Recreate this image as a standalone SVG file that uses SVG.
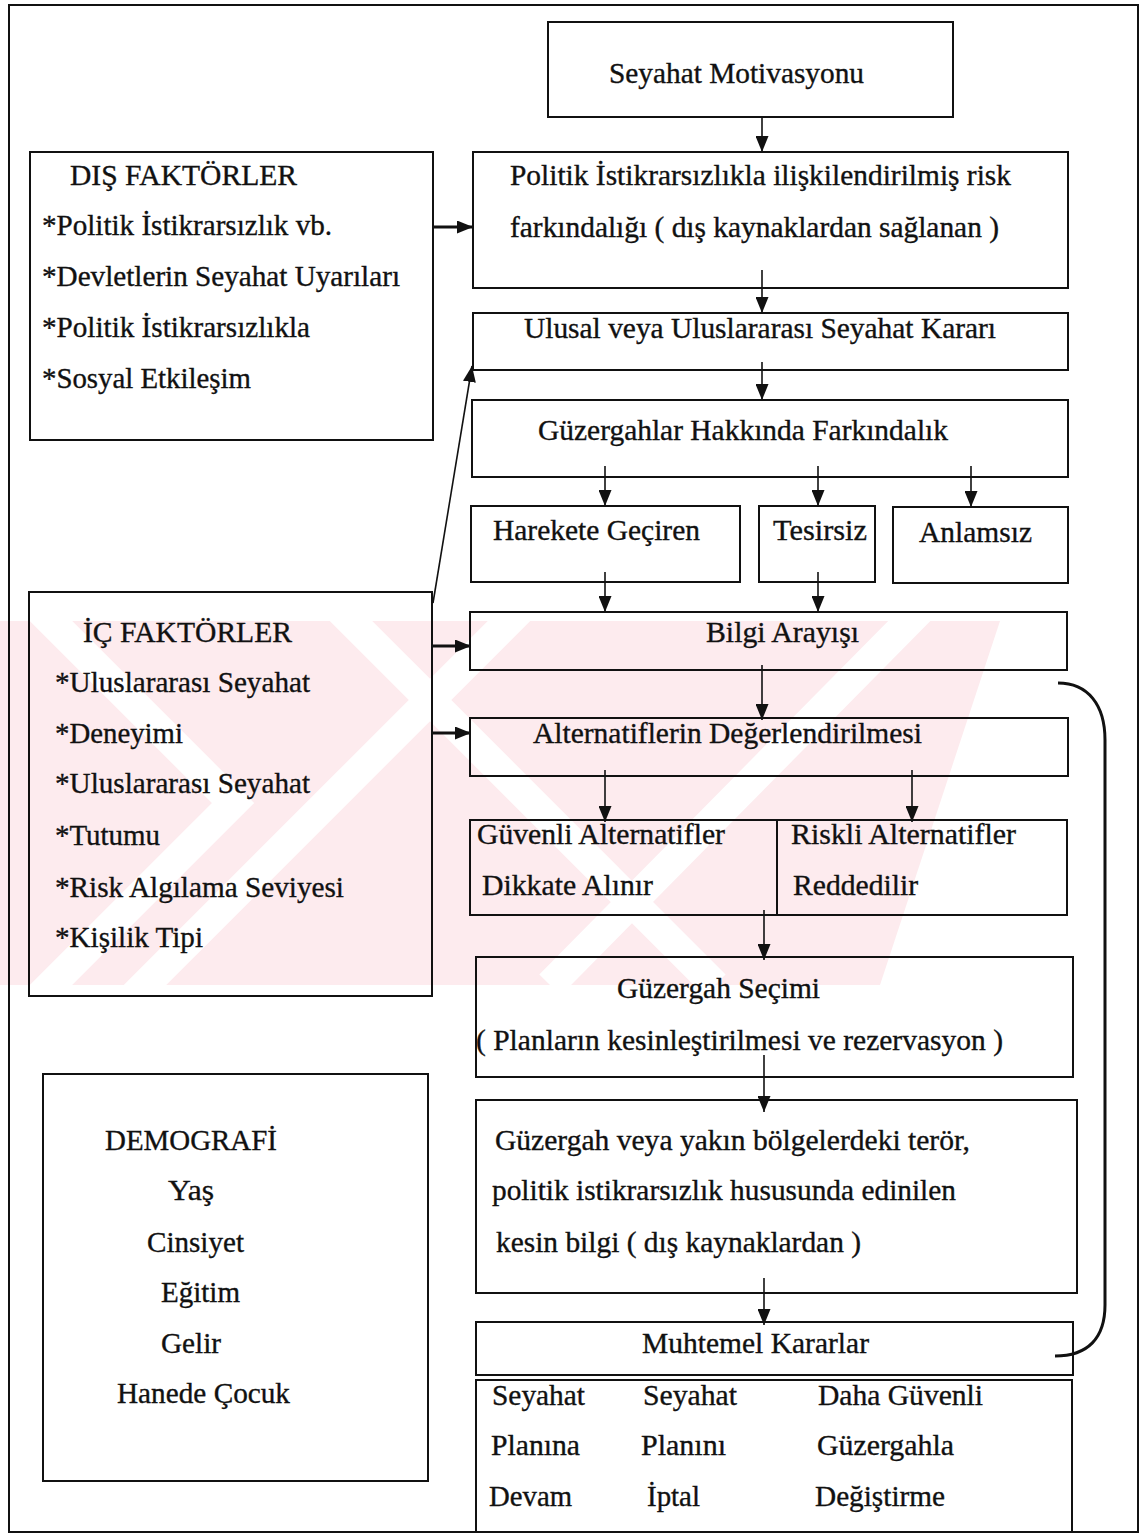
<svg xmlns="http://www.w3.org/2000/svg" width="1144" height="1535" viewBox="0 0 1144 1535">
  <style>
    .box { fill: none; stroke: #111; stroke-width: 2; }
    .t { font-family: "Liberation Serif", "Times New Roman", serif; font-size: 30px; fill: #111; stroke: #111; stroke-width: 0.35; }
    .ln { fill: none; stroke: #111; stroke-width: 1.6; }
    .thick { fill: none; stroke: #111; stroke-width: 3; }
  </style>
  <defs>
    <marker id="arr" markerUnits="userSpaceOnUse" markerWidth="16" markerHeight="13" refX="16" refY="6.5" orient="auto">
      <path d="M0,0 L16,6.5 L0,13 z" fill="#111"/>
    </marker>
    <clipPath id="wmClip">
      <polygon points="0,621 1000,621 880,985 0,985"/>
    </clipPath>
  </defs>

  <rect width="1144" height="1535" fill="#fff"/>

  <!-- faint background seal -->
  <g id="seal" clip-path="url(#wmClip)">
    <rect x="0" y="621" width="1000" height="364" fill="#fdebee"/>
    <g fill="none" stroke="#fff" stroke-width="30">
      <polyline points="30,600 233,803 30,1006"/>
      <line x1="530" y1="600" x2="130" y2="1000"/>
      <line x1="330" y1="600" x2="715" y2="985"/>
      <line x1="930" y1="600" x2="550" y2="985"/>
    </g>
  </g>

  <!-- page frame -->
  <rect x="9" y="5" width="1129" height="1527" class="box"/>

  <g id="connectors">
    <line x1="762" y1="117" x2="762" y2="152" class="ln" marker-end="url(#arr)"/>
    <line x1="762" y1="270" x2="762" y2="313" class="ln" marker-end="url(#arr)"/>
    <line x1="762" y1="362" x2="762" y2="400" class="ln" marker-end="url(#arr)"/>
    <line x1="605" y1="466" x2="605" y2="506" class="ln" marker-end="url(#arr)"/>
    <line x1="818" y1="466" x2="818" y2="506" class="ln" marker-end="url(#arr)"/>
    <line x1="971" y1="466" x2="971" y2="507" class="ln" marker-end="url(#arr)"/>
    <line x1="605" y1="572" x2="605" y2="612" class="ln" marker-end="url(#arr)"/>
    <line x1="818" y1="572" x2="818" y2="612" class="ln" marker-end="url(#arr)"/>
    <line x1="762" y1="665" x2="762" y2="720" class="ln" marker-end="url(#arr)"/>
    <line x1="605" y1="770" x2="605" y2="822" class="ln" marker-end="url(#arr)"/>
    <line x1="912" y1="770" x2="912" y2="822" class="ln" marker-end="url(#arr)"/>
    <line x1="764" y1="910" x2="764" y2="960" class="ln" marker-end="url(#arr)"/>
    <line x1="764" y1="1055" x2="764" y2="1112" class="ln" marker-end="url(#arr)"/>
    <line x1="764" y1="1278" x2="764" y2="1325" class="ln" marker-end="url(#arr)"/>
    <line x1="433" y1="227" x2="473" y2="227" class="thick" marker-end="url(#arr)"/>
    <line x1="432" y1="646" x2="471" y2="646" class="thick" marker-end="url(#arr)"/>
    <line x1="432" y1="733" x2="471" y2="733" class="thick" marker-end="url(#arr)"/>
    <line x1="433" y1="603" x2="472" y2="366" class="ln" marker-end="url(#arr)"/>
    <path d="M1058,683 C1088,683 1105,705 1105,740 L1105,1305 C1105,1338 1088,1356 1055,1356" class="thick" stroke-width="2.2"/>
  </g>

  <g id="motivasyon">
    <rect x="548" y="22" width="405" height="95" class="box"/>
    <text class="t" x="609" y="83" textLength="255" lengthAdjust="spacingAndGlyphs">Seyahat Motivasyonu</text>
  </g>

  <g id="risk-farkindaligi">
    <rect x="473" y="152" width="595" height="136" class="box"/>
    <text class="t" x="510" y="185" textLength="501" lengthAdjust="spacingAndGlyphs">Politik İstikrarsızlıkla ilişkilendirilmiş risk</text>
    <text class="t" x="510" y="237" textLength="489" lengthAdjust="spacingAndGlyphs">farkındalığı ( dış kaynaklardan sağlanan )</text>
  </g>

  <g id="seyahat-karari">
    <rect x="473" y="313" width="595" height="57" class="box"/>
    <text class="t" x="524" y="338" textLength="472" lengthAdjust="spacingAndGlyphs">Ulusal veya Uluslararası Seyahat Kararı</text>
  </g>

  <g id="guzergah-farkindalik">
    <rect x="472" y="400" width="596" height="77" class="box"/>
    <text class="t" x="538" y="440" textLength="410" lengthAdjust="spacingAndGlyphs">Güzergahlar Hakkında Farkındalık</text>
  </g>

  <g id="harekete-geciren">
    <rect x="471" y="506" width="269" height="76" class="box"/>
    <text class="t" x="493" y="540" textLength="207" lengthAdjust="spacingAndGlyphs">Harekete Geçiren</text>
  </g>

  <g id="tesirsiz">
    <rect x="759" y="506" width="116" height="76" class="box"/>
    <text class="t" x="773" y="540" textLength="94" lengthAdjust="spacingAndGlyphs">Tesirsiz</text>
  </g>

  <g id="anlamsiz">
    <rect x="893" y="507" width="175" height="76" class="box"/>
    <text class="t" x="919" y="542" textLength="113" lengthAdjust="spacingAndGlyphs">Anlamsız</text>
  </g>

  <g id="bilgi-arayisi">
    <rect x="470" y="612" width="597" height="58" class="box"/>
    <text class="t" x="706" y="642" textLength="153" lengthAdjust="spacingAndGlyphs">Bilgi Arayışı</text>
  </g>

  <g id="alternatif-degerlendirme">
    <rect x="470" y="718" width="598" height="58" class="box"/>
    <text class="t" x="533" y="743" textLength="389" lengthAdjust="spacingAndGlyphs">Alternatiflerin Değerlendirilmesi</text>
  </g>

  <g id="alternatifler">
    <rect x="470" y="820" width="597" height="95" class="box"/>
    <line x1="777" y1="820" x2="777" y2="915" class="box"/>
    <text class="t" x="477" y="844" textLength="248" lengthAdjust="spacingAndGlyphs">Güvenli Alternatifler</text>
    <text class="t" x="482" y="895" textLength="171" lengthAdjust="spacingAndGlyphs">Dikkate Alınır</text>
    <text class="t" x="791" y="844" textLength="225" lengthAdjust="spacingAndGlyphs">Riskli Alternatifler</text>
    <text class="t" x="793" y="895" textLength="125" lengthAdjust="spacingAndGlyphs">Reddedilir</text>
  </g>

  <g id="guzergah-secimi">
    <rect x="476" y="957" width="597" height="120" class="box"/>
    <text class="t" x="617" y="998" textLength="203" lengthAdjust="spacingAndGlyphs">Güzergah Seçimi</text>
    <text class="t" x="476" y="1050" textLength="527" lengthAdjust="spacingAndGlyphs">( Planların kesinleştirilmesi ve rezervasyon )</text>
  </g>

  <g id="kesin-bilgi">
    <rect x="476" y="1100" width="601" height="193" class="box"/>
    <text class="t" x="495" y="1150" textLength="475" lengthAdjust="spacingAndGlyphs">Güzergah veya yakın bölgelerdeki terör,</text>
    <text class="t" x="492" y="1200" textLength="464" lengthAdjust="spacingAndGlyphs">politik istikrarsızlık hususunda edinilen</text>
    <text class="t" x="496" y="1252" textLength="365" lengthAdjust="spacingAndGlyphs">kesin bilgi ( dış kaynaklardan )</text>
  </g>

  <g id="muhtemel-kararlar">
    <rect x="476" y="1322" width="597" height="53" class="box"/>
    <text class="t" x="642" y="1353" textLength="227" lengthAdjust="spacingAndGlyphs">Muhtemel Kararlar</text>
  </g>

  <g id="karar-secenekleri">
    <polyline points="476,1532 476,1380 1072,1380 1072,1532" class="box"/>
    <text class="t" x="492" y="1405" textLength="93" lengthAdjust="spacingAndGlyphs">Seyahat</text>
    <text class="t" x="491" y="1455" textLength="89" lengthAdjust="spacingAndGlyphs">Planına</text>
    <text class="t" x="489" y="1506" textLength="83" lengthAdjust="spacingAndGlyphs">Devam</text>
    <text class="t" x="643" y="1405" textLength="94" lengthAdjust="spacingAndGlyphs">Seyahat</text>
    <text class="t" x="641" y="1455" textLength="85" lengthAdjust="spacingAndGlyphs">Planını</text>
    <text class="t" x="647" y="1506" textLength="53" lengthAdjust="spacingAndGlyphs">İptal</text>
    <text class="t" x="818" y="1405" textLength="165" lengthAdjust="spacingAndGlyphs">Daha Güvenli</text>
    <text class="t" x="817" y="1455" textLength="137" lengthAdjust="spacingAndGlyphs">Güzergahla</text>
    <text class="t" x="815" y="1506" textLength="130" lengthAdjust="spacingAndGlyphs">Değiştirme</text>
  </g>

  <g id="dis-faktorler">
    <rect x="30" y="152" width="403" height="288" class="box"/>
    <text class="t" x="70" y="185" textLength="227" lengthAdjust="spacingAndGlyphs">DIŞ FAKTÖRLER</text>
    <text class="t" x="42" y="235" textLength="290" lengthAdjust="spacingAndGlyphs">*Politik İstikrarsızlık vb.</text>
    <text class="t" x="42" y="286" textLength="358" lengthAdjust="spacingAndGlyphs">*Devletlerin Seyahat Uyarıları</text>
    <text class="t" x="42" y="337" textLength="268" lengthAdjust="spacingAndGlyphs">*Politik İstikrarsızlıkla</text>
    <text class="t" x="42" y="388" textLength="209" lengthAdjust="spacingAndGlyphs">*Sosyal Etkileşim</text>
  </g>

  <g id="ic-faktorler">
    <rect x="29" y="592" width="403" height="404" class="box"/>
    <text class="t" x="83" y="642" textLength="209" lengthAdjust="spacingAndGlyphs">İÇ FAKTÖRLER</text>
    <text class="t" x="55" y="692" textLength="255" lengthAdjust="spacingAndGlyphs">*Uluslararası Seyahat</text>
    <text class="t" x="55" y="743" textLength="128" lengthAdjust="spacingAndGlyphs">*Deneyimi</text>
    <text class="t" x="55" y="793" textLength="255" lengthAdjust="spacingAndGlyphs">*Uluslararası Seyahat</text>
    <text class="t" x="55" y="845" textLength="105" lengthAdjust="spacingAndGlyphs">*Tutumu</text>
    <text class="t" x="55" y="897" textLength="289" lengthAdjust="spacingAndGlyphs">*Risk Algılama Seviyesi</text>
    <text class="t" x="55" y="947" textLength="148" lengthAdjust="spacingAndGlyphs">*Kişilik Tipi</text>
  </g>

  <g id="demografi">
    <rect x="43" y="1074" width="385" height="407" class="box"/>
    <text class="t" x="105" y="1150" textLength="172" lengthAdjust="spacingAndGlyphs">DEMOGRAFİ</text>
    <text class="t" x="168" y="1200" textLength="46" lengthAdjust="spacingAndGlyphs">Yaş</text>
    <text class="t" x="147" y="1252" textLength="97" lengthAdjust="spacingAndGlyphs">Cinsiyet</text>
    <text class="t" x="161" y="1302" textLength="79" lengthAdjust="spacingAndGlyphs">Eğitim</text>
    <text class="t" x="161" y="1353" textLength="60" lengthAdjust="spacingAndGlyphs">Gelir</text>
    <text class="t" x="117" y="1403" textLength="173" lengthAdjust="spacingAndGlyphs">Hanede Çocuk</text>
  </g>
</svg>
